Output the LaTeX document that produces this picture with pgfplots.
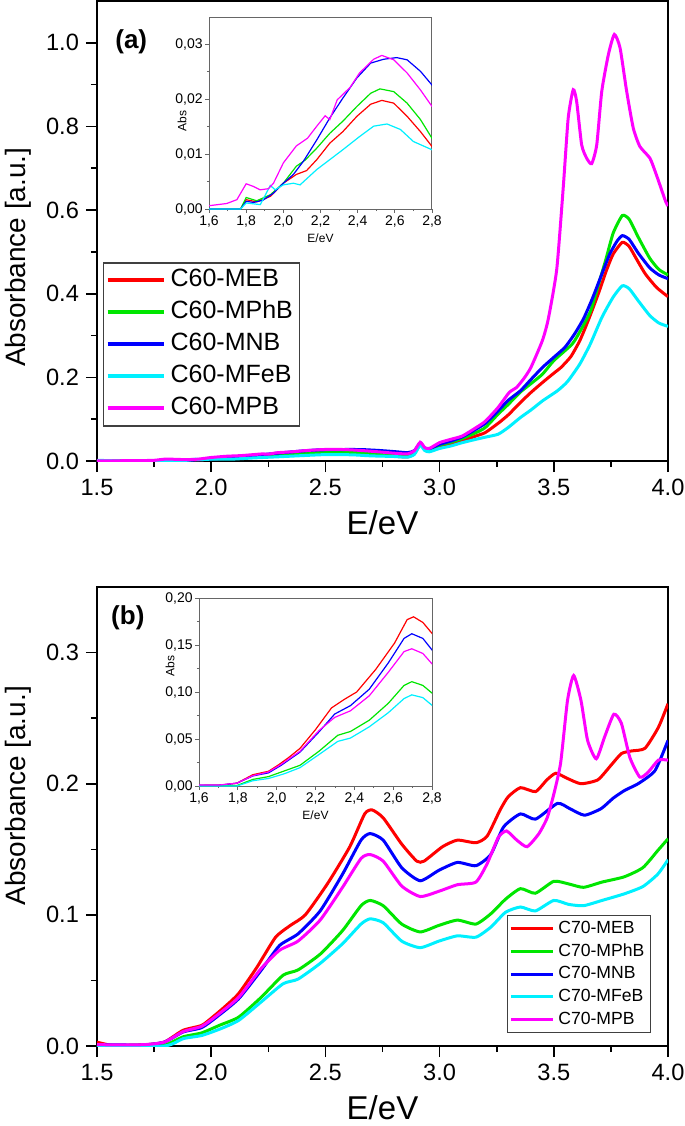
\documentclass[border=0pt]{standalone}
\usepackage{pgfplots}
\usepackage{pgfplotstable}
\pgfplotsset{compat=1.18}
\usepackage{fontspec}
\setmainfont{Liberation Sans}

\pgfplotstableread{
x y
1.50 0.0000
1.60 0.0000
1.70 0.0000
1.77 0.0000
1.80 0.0017
1.857 0.0013
1.93 0.0023
2.00 0.0047
2.07 0.0063
2.125 0.0070
2.18 0.0090
2.25 0.0120
2.32 0.0141
2.396 0.0169
2.47 0.0191
2.53 0.0198
2.594 0.0193
2.666 0.0169
2.738 0.0141
2.80 0.0114
2.86 0.0100
2.89 0.0180
2.915 0.0400
2.935 0.0280
2.955 0.0250
3.00 0.0340
3.05 0.0400
3.10 0.0480
3.16 0.0600
3.20 0.0680
3.256 0.0900
3.30 0.1100
3.354 0.1400
3.40 0.1640
3.451 0.1880
3.50 0.2100
3.532 0.2240
3.575 0.2500
3.614 0.2880
3.65 0.3350
3.695 0.4000
3.73 0.4550
3.76 0.4950
3.80 0.5230
3.83 0.5130
3.86 0.4850
3.90 0.4480
3.95 0.4150
4.00 0.3930
}\mebA

\pgfplotstableread{
x y
1.50 0.0000
1.77 0.0000
1.80 0.0021
1.857 0.0015
1.93 0.0026
2.00 0.0047
2.07 0.0078
2.117 0.0089
2.18 0.0111
2.25 0.0138
2.32 0.0160
2.396 0.0187
2.47 0.0211
2.52 0.0219
2.594 0.0214
2.666 0.0193
2.738 0.0163
2.80 0.0129
2.86 0.0110
2.89 0.0190
2.915 0.0420
2.935 0.0290
2.955 0.0270
3.00 0.0380
3.05 0.0450
3.10 0.0540
3.16 0.0680
3.20 0.0800
3.256 0.1120
3.30 0.1350
3.354 0.1650
3.40 0.1850
3.451 0.2080
3.50 0.2400
3.581 0.2800
3.62 0.3150
3.662 0.3600
3.70 0.4300
3.727 0.4800
3.76 0.5450
3.80 0.5870
3.83 0.5780
3.87 0.5350
3.92 0.4850
3.96 0.4580
4.00 0.4450
}\mphbA

\pgfplotstableread{
x y
1.50 0.0000
1.77 0.0000
1.80 0.0014
1.84 0.0012
1.89 0.0016
1.947 0.0029
2.00 0.0047
2.054 0.0063
2.108 0.0087
2.18 0.0126
2.25 0.0166
2.32 0.0202
2.396 0.0239
2.47 0.0266
2.54 0.0273
2.61 0.0276
2.666 0.0272
2.738 0.0251
2.80 0.0226
2.86 0.0200
2.89 0.0250
2.915 0.0430
2.935 0.0310
2.955 0.0290
3.00 0.0400
3.05 0.0480
3.10 0.0580
3.159 0.0760
3.20 0.0900
3.256 0.1200
3.30 0.1450
3.354 0.1680
3.40 0.1950
3.451 0.2240
3.50 0.2480
3.549 0.2720
3.59 0.3030
3.63 0.3400
3.67 0.3900
3.711 0.4480
3.745 0.4950
3.776 0.5250
3.80 0.5390
3.83 0.5300
3.87 0.4970
3.92 0.4620
3.96 0.4450
4.00 0.4360
}\mnbA

\pgfplotstableread{
x y
1.50 0.0015
1.55 0.0010
1.60 0.0000
1.77 0.0000
1.80 0.0011
1.876 0.0008
1.93 0.0043
1.956 0.0035
2.00 0.0044
2.054 0.0047
2.09 0.0044
2.18 0.0072
2.25 0.0090
2.32 0.0108
2.41 0.0132
2.486 0.0151
2.558 0.0155
2.63 0.0145
2.70 0.0123
2.80 0.0108
2.86 0.0090
2.89 0.0160
2.915 0.0380
2.935 0.0250
2.955 0.0220
3.00 0.0300
3.05 0.0360
3.10 0.0440
3.16 0.0520
3.20 0.0570
3.256 0.0640
3.30 0.0800
3.354 0.1040
3.40 0.1220
3.451 0.1440
3.516 0.1680
3.56 0.1900
3.614 0.2320
3.66 0.2800
3.711 0.3440
3.76 0.3920
3.80 0.4190
3.83 0.4120
3.87 0.3830
3.92 0.3480
3.96 0.3300
4.00 0.3220
}\mfebA

\pgfplotstableread{
x y
1.50 0.0003
1.60 0.0006
1.695 0.0010
1.75 0.0017
1.80 0.0046
1.84 0.0041
1.875 0.0035
1.92 0.0037
1.947 0.0047
2.00 0.0084
2.07 0.0115
2.13 0.0129
2.18 0.0151
2.225 0.0170
2.25 0.0163
2.29 0.0199
2.36 0.0222
2.41 0.0248
2.486 0.0273
2.53 0.0280
2.594 0.0272
2.666 0.0248
2.738 0.0217
2.80 0.0187
2.86 0.0170
2.89 0.0250
2.915 0.0450
2.935 0.0320
2.955 0.0300
3.00 0.0440
3.05 0.0520
3.10 0.0600
3.16 0.0800
3.20 0.0950
3.256 0.1280
3.305 0.1640
3.337 0.1760
3.37 0.1980
3.40 0.2240
3.45 0.2880
3.476 0.3400
3.513 0.4590
3.542 0.6590
3.563 0.8200
3.585 0.8880
3.60 0.8600
3.622 0.7560
3.644 0.7240
3.666 0.7110
3.688 0.7560
3.71 0.8840
3.739 0.9720
3.765 1.0200
3.79 0.9880
3.819 0.8840
3.848 0.7960
3.877 0.7520
3.921 0.7240
3.95 0.6830
3.99 0.6200
4.00 0.6100
}\mpbA

\pgfplotstableread{
x y
1.50 0.003
1.568 0.0005
1.714 0.001
1.795 0.003
1.877 0.012
1.958 0.0157
2.006 0.022
2.06 0.030
2.12 0.040
2.20 0.060
2.282 0.083
2.347 0.092
2.412 0.100
2.51 0.124
2.607 0.152
2.672 0.177
2.705 0.180
2.753 0.174
2.834 0.154
2.90 0.141
2.932 0.141
3.013 0.152
3.078 0.157
3.159 0.155
3.208 0.160
3.265 0.180
3.30 0.190
3.354 0.197
3.42 0.194
3.47 0.203
3.509 0.208
3.56 0.204
3.619 0.200
3.693 0.203
3.75 0.214
3.796 0.223
3.84 0.225
3.899 0.227
3.958 0.243
4.00 0.261
}\mebB

\pgfplotstableread{
x y
1.50 0.0005
1.70 0.0005
1.795 0.0005
1.877 0.007
1.958 0.010
2.039 0.016
2.12 0.022
2.218 0.037
2.315 0.054
2.38 0.058
2.477 0.070
2.575 0.088
2.656 0.107
2.696 0.111
2.753 0.107
2.834 0.093
2.915 0.087
2.997 0.092
3.078 0.096
3.159 0.093
3.224 0.1008
3.289 0.112
3.354 0.120
3.419 0.1165
3.50 0.1256
3.565 0.1236
3.63 0.121
3.711 0.125
3.808 0.129
3.89 0.136
3.955 0.149
4.00 0.158
}\mphbB

\pgfplotstableread{
x y
1.50 0.001
1.70 0.0008
1.795 0.003
1.877 0.0107
1.958 0.014
2.023 0.022
2.12 0.036
2.218 0.0576
2.299 0.0766
2.38 0.0855
2.477 0.103
2.575 0.131
2.656 0.157
2.696 0.162
2.753 0.157
2.834 0.136
2.915 0.126
2.997 0.134
3.078 0.140
3.159 0.1375
3.224 0.146
3.28 0.167
3.354 0.177
3.42 0.173
3.516 0.185
3.57 0.181
3.634 0.176
3.707 0.181
3.76 0.189
3.811 0.195
3.869 0.200
3.943 0.210
4.00 0.233
}\mnbB

\pgfplotstableread{
x y
1.50 0.000
1.795 0.000
1.877 0.0056
1.958 0.008
2.039 0.013
2.12 0.0195
2.218 0.0335
2.315 0.0475
2.38 0.051
2.477 0.063
2.575 0.078
2.656 0.093
2.696 0.097
2.753 0.094
2.834 0.080
2.915 0.075
2.997 0.080
3.078 0.084
3.159 0.083
3.224 0.0906
3.289 0.102
3.354 0.106
3.419 0.103
3.50 0.111
3.565 0.108
3.63 0.107
3.711 0.111
3.808 0.116
3.89 0.1216
3.955 0.131
4.00 0.142
}\mfebB

\pgfplotstableread{
x y
1.50 0.001
1.70 0.001
1.795 0.003
1.877 0.011
1.958 0.015
2.023 0.023
2.12 0.037
2.218 0.059
2.299 0.073
2.38 0.080
2.477 0.096
2.575 0.121
2.656 0.143
2.696 0.146
2.753 0.141
2.834 0.122
2.915 0.114
2.997 0.118
3.078 0.123
3.159 0.125
3.208 0.139
3.257 0.159
3.293 0.164
3.338 0.157
3.383 0.152
3.435 0.162
3.471 0.174
3.50 0.192
3.53 0.216
3.56 0.2635
3.587 0.2825
3.619 0.2635
3.648 0.233
3.686 0.219
3.722 0.2355
3.763 0.253
3.796 0.246
3.833 0.220
3.877 0.205
3.914 0.209
3.958 0.218
4.00 0.218
}\mpbB

\definecolor{cR}{RGB}{255,0,0}
\definecolor{cG}{RGB}{0,230,0}
\definecolor{cB}{RGB}{0,0,255}
\definecolor{cC}{RGB}{0,240,255}
\definecolor{cM}{RGB}{255,0,255}

\pgfplotsset{
  mainax/.style={
    scale only axis, width=285.5pt,
    xmin=1.5, xmax=4, ymin=0,
    xtick={1.5,2.0,2.5,3.0,3.5,4.0},
    minor x tick num=1, minor y tick num=1,
    tick align=outside, xtick pos=bottom, ytick pos=left,
    major tick length=5.5pt, minor tick length=3pt,
    axis line style={line width=0.9pt},
    tick style={line width=0.8pt, black},
    ticklabel style={font=\fontsize{11.8}{13}\selectfont},
    /pgf/number format/assume math mode=true,
    /pgf/number format/fixed, /pgf/number format/fixed zerofill,
    /pgf/number format/precision=1,
    xlabel={E/eV}, ylabel={Absorbance [a.u.]},
    xlabel style={font=\fontsize{16.5}{18}\selectfont, at={(axis description cs:0.5,-0.135)}, anchor=center},
    legend cell align=left,
    legend image code/.code={\draw[#1, line width=2pt] (0pt,0pt) -- (28pt,0pt);},
    every axis plot/.append style={line width=1.5pt, smooth, tension=0.35},
  },
  insetax/.style={
    scale only axis, xmin=1.6, xmax=2.8, ymin=0,
    xtick={1.6,1.8,2.0,2.2,2.4,2.6,2.8},
    minor x tick num=1, minor y tick num=1,
    scaled y ticks=false,
    tick align=outside, xtick pos=bottom, ytick pos=left,
    major tick length=1.8pt, minor tick length=1.1pt,
    axis line style={black!60, line width=0.5pt},
    tick style={black!60, line width=0.4pt},
    ticklabel style={font=\fontsize{7}{8}\selectfont},
    xticklabel style={inner ysep=1.5pt},
    yticklabel style={inner xsep=1.2pt},
    /pgf/number format/assume math mode=true,
    /pgf/number format/use comma,
    /pgf/number format/fixed, /pgf/number format/fixed zerofill,
    xticklabel style={/pgf/number format/precision=1},
    yticklabel style={/pgf/number format/precision=2},
    xlabel={E/eV}, ylabel={Abs},
    label style={font=\fontsize{6}{7}\selectfont},
    xlabel style={yshift=2pt},
    axis background/.style={fill=white},
    every axis plot/.append style={line width=0.6pt},
  },
}

\begin{document}
\begin{tikzpicture}
\useasboundingbox (0pt,0pt) rectangle (342.5pt,-563pt);

% ---------------- panel (a) ----------------
\begin{axis}[mainax, at={(48.5pt,-230.5pt)}, anchor=south west, height=230pt,
  ymax=1.1, ytick={0,0.2,0.4,0.6,0.8,1.0},
  ylabel style={font=\fontsize{14}{16}\selectfont, at={(axis description cs:-0.138,0.443)}, anchor=center},
  legend style={at={(axis description cs:0.0105,0.075)}, anchor=south west,
    font=\fontsize{12.5}{14}\selectfont, draw=black!75, line width=0.6pt,
    inner xsep=1pt, inner ysep=1pt, row sep=0.5pt,
    nodes={inner ysep=2pt, inner xsep=2.5pt, text height=9pt, text depth=2.5pt}},
]
\addplot[cR] table {\mebA};
\addplot[cG] table {\mphbA};
\addplot[cB] table {\mnbA};
\addplot[cC] table {\mfebA};
\addplot[cM] table {\mpbA};
\legend{C60-MEB, C60-MPhB, C60-MNB, C60-MFeB, C60-MPB}
\node[font=\bfseries\fontsize{13}{15}\selectfont] at (axis description cs:0.06,0.911) {(a)};
\end{axis}

\begin{axis}[insetax, at={(104.5pt,-104.5pt)}, anchor=south west, width=111.5pt, height=96pt,
  ymax=0.035, ytick={0,0.01,0.02,0.03},
  ylabel style={at={(axis description cs:-0.121,0.46)}, anchor=center}]
\addplot[cR] table {\mebA};
\addplot[cG] table {\mphbA};
\addplot[cB] table {\mnbA};
\addplot[cC] table {\mfebA};
\addplot[cM] table {\mpbA};
\end{axis}

% ---------------- panel (b) ----------------
\begin{axis}[mainax, at={(48.5pt,-523pt)}, anchor=south west, height=229.5pt,
  ymax=0.35, ytick={0,0.1,0.2,0.3},
  ylabel style={font=\fontsize{14}{16}\selectfont, at={(axis description cs:-0.138,0.545)}, anchor=center},
  legend style={at={(axis description cs:0.970,0.028)}, anchor=south east,
    font=\fontsize{8.8}{10}\selectfont, draw=black!75, line width=0.5pt,
    inner xsep=1pt, inner ysep=1pt, row sep=0pt,
    nodes={inner ysep=1.5pt, inner xsep=2pt, text height=6.5pt, text depth=1.8pt}},
  legend image code/.code={\draw[#1, line width=1.5pt] (0pt,0pt) -- (21pt,0pt);},
]
\addplot[cR] table {\mebB};
\addplot[cG] table {\mphbB};
\addplot[cB] table {\mnbB};
\addplot[cC] table {\mfebB};
\addplot[cM] table {\mpbB};
\legend{C70-MEB, C70-MPhB, C70-MNB, C70-MFeB, C70-MPB}
\node[font=\bfseries\fontsize{13}{15}\selectfont] at (axis description cs:0.054,0.932) {(b)};
\end{axis}

\begin{axis}[insetax, at={(99.5pt,-393pt)}, anchor=south west, width=116.5pt, height=94pt,
  ymax=0.20, ytick={0,0.05,0.10,0.15,0.20},
  ylabel style={at={(axis description cs:-0.124,0.64)}, anchor=center}]
\addplot[cR] table {\mebB};
\addplot[cG] table {\mphbB};
\addplot[cB] table {\mnbB};
\addplot[cC] table {\mfebB};
\addplot[cM] table {\mpbB};
\end{axis}

\end{tikzpicture}
\end{document}
